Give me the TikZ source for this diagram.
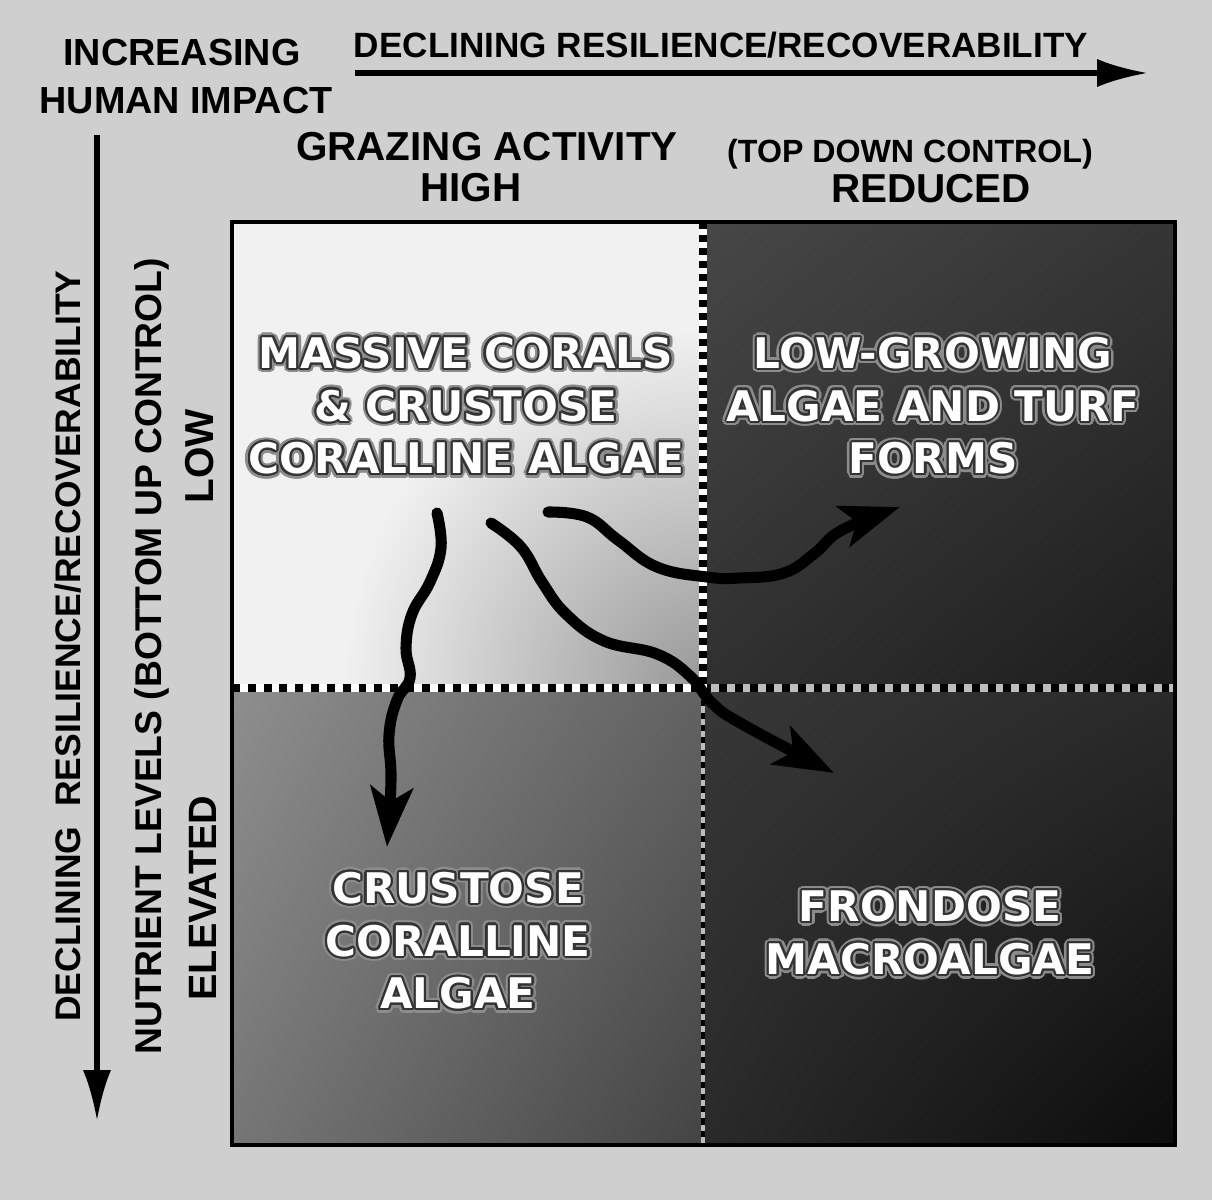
\documentclass[tikz,border=0pt]{standalone}
\usepackage{fontspec}
\usepackage[copies]{contour}
\usetikzlibrary{arrows.meta,shadings}
\newfontfamily\headfont{Liberation Sans}
\newfontfamily\cellfont{DejaVu Sans}
\definecolor{backdropGray}{HTML}{CFCFCF}
\definecolor{tlPale}{HTML}{F1F1F1}
\definecolor{tlDeep}{HTML}{989898}
\definecolor{trA}{HTML}{474747}
\definecolor{trB}{HTML}{353535}
\definecolor{trC}{HTML}{303030}
\definecolor{trD}{HTML}{1C1C1C}
\definecolor{blA}{HTML}{8E8E8E}
\definecolor{blB}{HTML}{626262}
\definecolor{blC}{HTML}{767676}
\definecolor{blD}{HTML}{444444}
\definecolor{brA}{HTML}{373737}
\definecolor{brB}{HTML}{2A2A2A}
\definecolor{brC}{HTML}{2A2A2A}
\definecolor{brD}{HTML}{0C0C0C}
\definecolor{dividerGap}{HTML}{BDBDBD}
\newcommand\boxLeft{232}
\newcommand\boxTop{222}
\newcommand\boxRight{1175}
\newcommand\boxBottom{1145}
\newcommand\splitX{703}
\newcommand\splitY{688}
\newcommand\glowline[1]{\contourlength{2.6pt}\rlap{\contour{black!45}{#1}}\contourlength{1.2pt}\contour{black!80}{#1}}
\newcommand\drawDividers{
	\foreach \xa/\xb/\gap in {\boxLeft/\splitX/white,\splitX/\boxRight/dividerGap}{
		\draw[color=\gap, line width=4.5pt] (\xa,\splitY) to (\xb,\splitY);
		\draw[hdots] (\xa,\splitY) to (\xb,\splitY);
	}
	\draw[color=white, line width=4.5pt] (\splitX,\boxTop) to (\splitX,\splitY);
	\draw[vdots] (\splitX,\boxTop) to (\splitX,\splitY);
	\draw[color=dividerGap, line width=2.5pt] (\splitX,\splitY) to (\splitX,\boxBottom);
	\draw[lowdots] (\splitX,\splitY) to (\splitX,\boxBottom);
}
\tikzset{
	headlabel/.style={font=\headfont\bfseries\fontsize{#1}{#1}\selectfont, inner sep=0pt, anchor=base},
	sidelabel/.style={headlabel=#1, rotate=90},
	celllabel/.style={font=\cellfont\bfseries\fontsize{24}{30}\selectfont, text=white, align=center, inner sep=0pt},
	driftarrow/.style={line width=6.3pt, line cap=round, line join=round, -{Stealth[length=34pt,width=24pt,inset=8pt]}},
	axisarrow/.style={line width=3pt, -{Latex[length=29pt,width=16pt]}},
	hdots/.style={line width=4.5pt, dash pattern=on 4.5pt off 4.5pt},
	vdots/.style={line width=4.5pt, dash pattern=on 3.7pt off 3.7pt},
	lowdots/.style={line width=2.5pt, dash pattern=on 3.5pt off 3.5pt},
}
\begin{document}
\begin{tikzpicture}[x=0.02cm, y=-0.02cm]
		\fill[backdropGray] (0,0) rectangle (1212,1200);

		% quadrants
		\fill[tlPale] (\boxLeft,\boxTop) rectangle (\splitX,\splitY);
		\begin{scope}
			\clip (\boxLeft,\boxTop) rectangle (\splitX,\splitY);
			\shade[inner color=tlDeep, outer color=tlPale] (\splitX,\splitY) circle[radius=360];
		\end{scope}
		\shade[upper left=trA, upper right=trB, lower left=trC, lower right=trD]
			(\splitX,\boxTop) rectangle (\boxRight,\splitY);
		\shade[upper left=blA, upper right=blB, lower left=blC, lower right=blD]
			(\boxLeft,\splitY) rectangle (\splitX,\boxBottom);
		\shade[upper left=brA, upper right=brB, lower left=brC, lower right=brD]
			(\splitX,\splitY) rectangle (\boxRight,\boxBottom);
		\drawDividers
		\draw[line width=2.3pt] (\boxLeft,\boxTop) rectangle (\boxRight,\boxBottom);

		% axes
		\coordinate (topTail) at (355,73);
		\coordinate (topHead) at (1148,73);
		\coordinate (sideTail) at (97,135);
		\coordinate (sideHead) at (97,1121);
		\draw[axisarrow] (topTail) to (topHead);
		\draw[axisarrow] (sideTail) to (sideHead);

		\node[headlabel=21.5] (increasing) at (182,65) {INCREASING};
		\node[headlabel=21.5] (humanImpact) at (186,113) {HUMAN IMPACT};
		\node[headlabel=20] (topResilience) at (721,57) {DECLINING RESILIENCE/RECOVERABILITY};
		\node[headlabel=23] (grazing) at (487,160) {GRAZING ACTIVITY};
		\node[headlabel=18.3] (topDown) at (910,162) {(TOP DOWN CONTROL)};
		\node[headlabel=23] (high) at (471,201) {HIGH};
		\node[headlabel=23] (reduced) at (931,202) {REDUCED};
		\node[sidelabel=20.2] (sideResilience) at (80,646) {DECLINING\ \ RESILIENCE/RECOVERABILITY};
		\node[sidelabel=21.2] (nutrient) at (161,656) {NUTRIENT LEVELS (BOTTOM UP CONTROL)};
		\node[sidelabel=23] (low) at (213,456) {LOW};
		\node[sidelabel=22.5] (elevated) at (216,898) {ELEVATED};

		% shifts
		\coordinate (downStart) at (437,513);
		\coordinate (downEnd) at (387,847);
		\coordinate (midStart) at (491,523);
		\coordinate (midEnd) at (834,773);
		\coordinate (rightStart) at (548,512);
		\coordinate (rightEnd) at (900,507);
		\draw[driftarrow] plot[smooth, tension=0.7] coordinates {(downStart) (441,548) (430,582) (412,614) (406,648) (410,678) (397,700) (389,735) (391,780) (downEnd)};
		\draw[driftarrow] plot[smooth, tension=0.7] coordinates {(midStart) (521,547) (542,582) (566,614) (604,641) (657,654) (690,676) (712,703) (742,724) (midEnd)};
		\draw[driftarrow] plot[smooth, tension=0.7] coordinates {(rightStart) (587,517) (618,540) (657,567) (707,577) (740,578) (784,573) (815,553) (842,530) (rightEnd)};

		\node[celllabel] (corals) at (466,408) {\glowline{MASSIVE CORALS}\\\glowline{\& CRUSTOSE}\\\glowline{CORALLINE ALGAE}};
		\node[celllabel] (turf) at (933,408) {\glowline{LOW-GROWING}\\\glowline{ALGAE AND TURF}\\\glowline{FORMS}};
		\node[celllabel] (crustose) at (458,943) {\glowline{CRUSTOSE}\\\glowline{CORALLINE}\\\glowline{ALGAE}};
		\node[celllabel] (frondose) at (930,935) {\glowline{FRONDOSE}\\\glowline{MACROALGAE}};
	\end{tikzpicture}
\end{document}
